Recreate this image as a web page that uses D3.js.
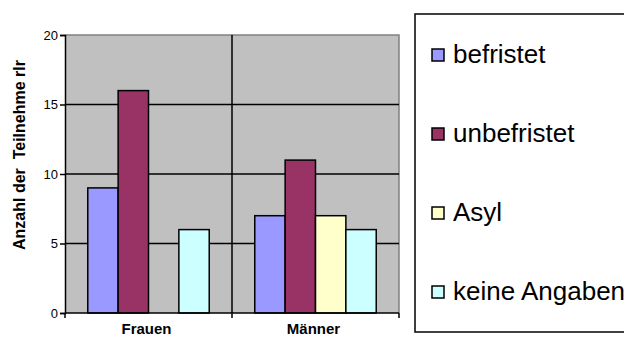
<!DOCTYPE html>
<html>
<head>
<meta charset="utf-8">
<script src="https://cdn.jsdelivr.net/npm/d3@7"></script>
<style>
  body { margin: 0; background: #fff; }
  svg { display: block; font-family: "Liberation Sans", Arial, sans-serif; }
</style>
</head>
<body>
<script>
// Data
var categories = ["Frauen", "Männer"];
var series = ["befristet", "unbefristet", "Asyl", "keine Angaben"];
var colors = ["#9999FF", "#993366", "#FFFFCC", "#CCFFFF"];
var frauenValues = [9, 16, 0, 6];
var maennerValues = [7, 11, 7, 6];
var yTicks = [0, 5, 10, 15, 20];

var values = [frauenValues, maennerValues];

// Layout
var W = 624, H = 338;
var plot = {left: 65, right: 399, top: 35, bottom: 313};

var svg = d3.select("body").append("svg")
    .attr("width", W)
    .attr("height", H);

var x0 = d3.scaleBand()
    .domain(categories)
    .range([plot.left, plot.right])
    .padding(0);

var x1 = d3.scaleBand()
    .domain(series)
    .range([0, x0.bandwidth()])
    .paddingInner(0)
    .paddingOuter(0.75);

var y = d3.scaleLinear()
    .domain([0, 20])
    .range([plot.bottom, plot.top]);

// plot background
svg.append("rect")
    .attr("x", plot.left).attr("y", plot.top)
    .attr("width", plot.right - plot.left)
    .attr("height", plot.bottom - plot.top)
    .attr("fill", "#C0C0C0");

// top / right border in grey
svg.append("path")
    .attr("d", "M" + plot.left + "," + plot.top + "H" + plot.right + "V" + plot.bottom)
    .attr("fill", "none")
    .attr("stroke", "#808080")
    .attr("stroke-width", 1.5);

// horizontal gridlines
svg.selectAll("line.grid")
    .data(yTicks.filter(function(d) { return d > 0 && d < 20; }))
  .enter().append("line")
    .attr("class", "grid")
    .attr("x1", plot.left).attr("x2", plot.right)
    .attr("y1", function(d) { return y(d); })
    .attr("y2", function(d) { return y(d); })
    .attr("stroke", "#000")
    .attr("stroke-width", 1.5);

// vertical separator between categories
svg.append("line")
    .attr("x1", x0("Männer")).attr("x2", x0("Männer"))
    .attr("y1", plot.top).attr("y2", plot.bottom)
    .attr("stroke", "#000")
    .attr("stroke-width", 1.5);

// bars
var groups = svg.selectAll("g.cat")
    .data(categories)
  .enter().append("g")
    .attr("class", "cat")
    .attr("transform", function(d) { return "translate(" + x0(d) + ",0)"; });

groups.selectAll("rect")
    .data(function(d, i) {
        return series.map(function(s, j) { return {s: s, v: values[i][j], c: colors[j]}; })
            .filter(function(e) { return e.v > 0; });
    })
  .enter().append("rect")
    .attr("x", function(d) { return x1(d.s); })
    .attr("y", function(d) { return y(d.v); })
    .attr("width", x1.bandwidth())
    .attr("height", function(d) { return y(0) - y(d.v); })
    .attr("fill", function(d) { return d.c; })
    .attr("stroke", "#000")
    .attr("stroke-width", 1.5);

// y axis
var yAxis = d3.axisLeft(y)
    .tickValues(yTicks)
    .tickSize(5)
    .tickPadding(2);

var gy = svg.append("g")
    .attr("transform", "translate(" + plot.left + ",0)")
    .call(yAxis);
gy.select(".domain").attr("stroke", "#000").attr("stroke-width", 1.5);
gy.selectAll(".tick line").attr("stroke", "#000").attr("stroke-width", 1.5);
gy.selectAll(".tick text")
    .attr("font-size", 13)
    .attr("font-family", "Liberation Sans, Arial, sans-serif")
    .attr("fill", "#000");

// x axis baseline + ticks at band edges
svg.append("line")
    .attr("x1", plot.left).attr("x2", plot.right)
    .attr("y1", plot.bottom).attr("y2", plot.bottom)
    .attr("stroke", "#000")
    .attr("stroke-width", 1.5);

var edges = categories.map(function(c) { return x0(c); }).concat([plot.right]);
svg.selectAll("line.xtick")
    .data(edges)
  .enter().append("line")
    .attr("class", "xtick")
    .attr("x1", function(d) { return d; })
    .attr("x2", function(d) { return d; })
    .attr("y1", plot.bottom).attr("y2", plot.bottom + 5)
    .attr("stroke", "#000")
    .attr("stroke-width", 1.5);

// category labels (the reference clips them at the bottom edge; kept just inside here)
svg.selectAll("text.cat")
    .data(categories)
  .enter().append("text")
    .attr("class", "cat")
    .attr("x", function(d) { return x0(d) + x0.bandwidth() / 2 - 2; })
    .attr("y", 334)
    .attr("text-anchor", "middle")
    .attr("font-size", 15)
    .attr("font-weight", "bold")
    .text(function(d) { return d; });

// y axis title
svg.append("text")
    .attr("transform", "translate(25,155) rotate(-90)")
    .attr("text-anchor", "middle")
    .attr("font-size", 16)
    .attr("font-weight", "bold")
    .style("white-space", "pre")
    .text("Anzahl der  Teilnehme rIr");

// legend
svg.append("rect")
    .attr("x", 415).attr("y", 14)
    .attr("width", 240).attr("height", 318)
    .attr("fill", "#fff")
    .attr("stroke", "#000")
    .attr("stroke-width", 1.5);

var ly = d3.scalePoint()
    .domain(series)
    .range([63, 300]);

var items = svg.selectAll("g.leg")
    .data(series)
  .enter().append("g")
    .attr("class", "leg")
    .attr("transform", function(d) { return "translate(0," + ly(d) + ")"; });

items.append("rect")
    .attr("x", 432).attr("y", -14)
    .attr("width", 12).attr("height", 12)
    .attr("fill", function(d, i) { return colors[i]; })
    .attr("stroke", "#000")
    .attr("stroke-width", 1.5);

items.append("text")
    .attr("x", 453).attr("y", 0)
    .attr("font-size", 26)
    .text(function(d) { return d; });
</script>
</body>
</html>
